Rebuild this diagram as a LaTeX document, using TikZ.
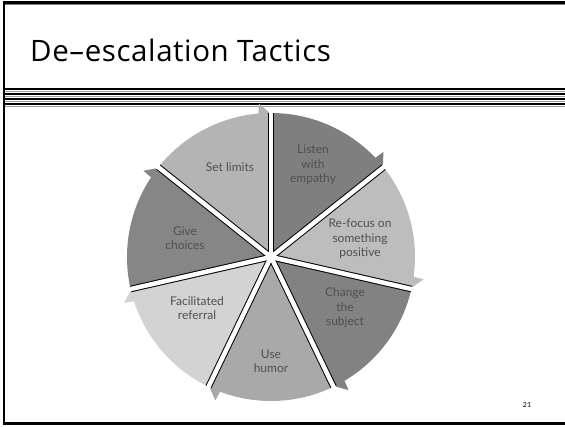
\documentclass[tikz,border=0pt]{standalone}
\usepackage{fontspec}
\setmainfont{Lato}
\newfontfamily\titlefont[LetterSpace=2]{Open Sans}
\definecolor{LabelGray}{HTML}{505050}
\definecolor{StripeGray}{HTML}{9A9A9A}
\definecolor{ShadeA}{HTML}{7F7F7F}
\definecolor{ShadeB}{HTML}{BDBDBD}
\definecolor{ShadeC}{HTML}{828282}
\definecolor{ShadeD}{HTML}{A9A9A9}
\definecolor{ShadeE}{HTML}{D3D3D3}
\definecolor{ShadeF}{HTML}{868686}
\definecolor{ShadeG}{HTML}{B4B4B4}

\begin{document}
\begin{tikzpicture}[x=1pt,y=1pt,
    slicetext/.style={align=center, text=LabelGray, inner sep=0pt,
      font=\fontsize{12}{14.5}\selectfont},
    frameline/.style={line width=2.5pt, black},
    ]
  \useasboundingbox (0,0) rectangle (565,426);
  %% Frame of the slide
  \draw[frameline] (4,423.5) -- (565,423.5);
  \draw[gray, line width=1pt] (5,421.5) -- (565,421.5);
  \draw[frameline] (4,424.7) -- (4,2);
  \draw[frameline] (3,2.7) -- (565,2.7);
  %% Title
  \node[anchor=base west, inner sep=0pt, font=\titlefont\fontsize{29.5}{30}\selectfont]
    (title) at (30,364) {De–escalation Tactics};
  %% Striped rule under the title
  \foreach \yy/\cc in {337/black, 334.5/StripeGray, 332/black, 329.5/StripeGray,
                       327/black, 324.5/StripeGray, 322/black, 319.5/StripeGray}
    \draw[\cc, line width=1.4pt] (5,\yy) -- (565,\yy);
  %% Cycle of tactics
  \begin{scope}[shift={(271,169)}]
    \def\rr{144}
    \foreach \ii/\cc in {1/ShadeA, 2/ShadeB, 3/ShadeC, 4/ShadeD, 5/ShadeE, 6/ShadeF, 7/ShadeG}{
      \pgfmathsetmacro{\sa}{90-51.4286*(\ii-1)}
      \pgfmathsetmacro{\ea}{\sa-51.4286}
      \fill[\cc] (0,0) -- (\sa:\rr) arc[start angle=\sa, end angle=\ea+5, radius=\rr]
        -- (\ea+4.5:\rr+10) -- (\ea:\rr-1) -- cycle;
    }
    %% gaps between the slices
    \foreach \ii in {1,...,7}
      \draw[black, line width=6.5pt] (0,0) -- ({90-51.4286*(\ii-1)}:\rr);
    \foreach \ii in {1,...,7}
      \draw[white, line width=4.5pt] (0,0) -- ({90-51.4286*(\ii-1)}:\rr+3);
    \fill[white] (0,0) circle (4);
  \end{scope}
  %% Labels
  \node[slicetext] (listen) at (313,261) {Listen\\with\\empathy};
  \node[slicetext] (refocus) at (360,187) {Re-focus on\\something\\positive};
  \node[slicetext] (change) at (345,118) {Change\\the\\subject};
  \node[slicetext] (humor) at (271,65) {Use\\humor};
  \node[slicetext] (referral) at (197,118) {Facilitated\\referral};
  \node[slicetext] (choices) at (185,188) {Give\\choices};
  \node[slicetext] (limits) at (230,259) {Set limits};
  %% Slide number
  \node[font=\fontsize{7}{8}\selectfont, inner sep=0pt] (pagenum) at (527,21) {21};
\end{tikzpicture}
\end{document}
